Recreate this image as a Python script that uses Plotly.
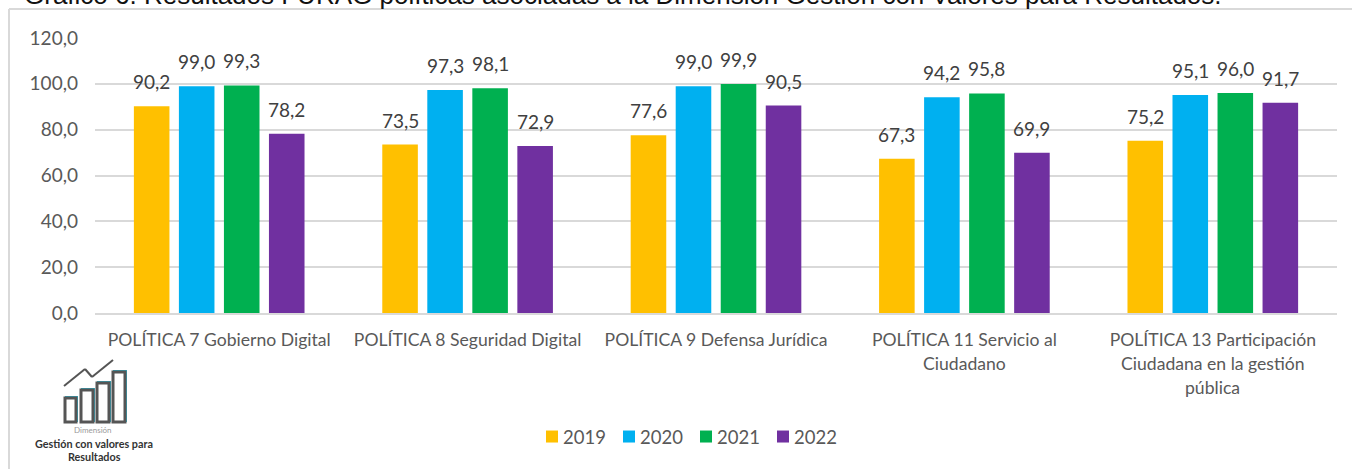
import plotly.graph_objects as go

TITLE = "Gráfico 6. Resultados FURAG políticas asociadas a la Dimensión Gestión con Valores para Resultados."
CATEGORIES = ["POLÍTICA 7", "POLÍTICA 8", "POLÍTICA 9", "POLÍTICA 11", "POLÍTICA 13"]
FIRST_LINES = ["POLÍTICA 7 Gobierno Digital", "POLÍTICA 8 Seguridad Digital", "POLÍTICA 9 Defensa Jurídica",
               "POLÍTICA 11 Servicio al", "POLÍTICA 13 Participación"]
EXTRA_LINES = {3: ["Ciudadano"], 4: ["Ciudadana en la gestión", "pública"]}
YEARS = ["2019", "2020", "2021", "2022"]
V2019 = [90.2, 73.5, 77.6, 67.3, 75.2]
V2020 = [99.0, 97.3, 99.0, 94.2, 95.1]
V2021 = [99.3, 98.1, 99.9, 95.8, 96.0]
V2022 = [78.2, 72.9, 90.5, 69.9, 91.7]
SERIES = [V2019, V2020, V2021, V2022]
COLORS = ["#FFC000", "#00B0F0", "#00B050", "#7030A0"]

FONT = "Lato"
GREY = "#595959"
W, H = 1352, 469
L, R, T, B = 95, 15, 38, 156
PW, PH = W - L - R, H - T - B
px = lambda v: (v - L) / PW
py = lambda v: (H - B - v) / PH

fig = go.Figure()
for year, vals, col in zip(YEARS, SERIES, COLORS):
    fig.add_bar(name=year, x=CATEGORIES, y=vals, marker_color=col, marker_line_width=0)

ann = []
for i, vals in enumerate(SERIES):
    for cat, v in zip(CATEGORIES, vals):
        ann.append(dict(x=cat, y=v, xref="x", yref="y", text=f"{v:.1f}".replace(".", ","), showarrow=False,
                        xshift=(i - 1.5) * 45, yshift=11, yanchor="bottom",
                        font=dict(family=FONT, size=19, color="#404040")))
for idx, lines in EXTRA_LINES.items():
    for j, t in enumerate(lines):
        ann.append(dict(x=CATEGORIES[idx], y=py(339 + 24 * (j + 1)), xref="x", yref="paper", text=t, showarrow=False,
                        yanchor="middle", font=dict(family=FONT, size=17.6, color=GREY)))
# logo caption
ann.append(dict(x=px(93), y=py(437), xref="paper", yref="paper", text="Dimensión", showarrow=False, xanchor="center",
                font=dict(family=FONT, size=8, color="#9a9a9a")))
ann.append(dict(x=px(94), y=py(452), xref="paper", yref="paper", text="<b>Gestión con valores para</b>", showarrow=False,
                xanchor="center", font=dict(family=FONT, size=10.8, color="#333333")))
ann.append(dict(x=px(94), y=py(465), xref="paper", yref="paper", text="<b>Resultados</b>", showarrow=False,
                xanchor="center", font=dict(family=FONT, size=10.8, color="#333333")))

shapes = []
def line(x0, y0, x1, y1, color, width):
    shapes.append(dict(type="line", xref="paper", yref="paper", x0=px(x0), y0=py(y0), x1=px(x1), y1=py(y1),
                       line=dict(color=color, width=width)))
line(9, 9, 1352, 9, "#D9D9D9", 2)
line(9, 9, 9, 469, "#D9D9D9", 2)
for x0, x1, top in [(65, 76, 398), (81, 93, 390), (97, 109, 383), (113, 125, 372)]:
    shapes.append(dict(type="rect", xref="paper", yref="paper", x0=px(x0 + 1), x1=px(x1 + 1), y0=py(421), y1=py(top - 1),
                       line=dict(color="#2BB3CC", width=2)))
    shapes.append(dict(type="rect", xref="paper", yref="paper", x0=px(x0), x1=px(x1), y0=py(422), y1=py(top),
                       fillcolor="white", line=dict(color="#555555", width=3)))
pts = [(64, 386), (85, 369), (92, 377), (113, 360)]
for a, b in zip(pts, pts[1:]):
    line(a[0], a[1], b[0], b[1], "#555555", 2)

fig.update_layout(
    width=W, height=H, autosize=False, barmode="group", bargap=0.275, bargroupgap=0.21,
    paper_bgcolor="white", plot_bgcolor="white", separators=",.",
    margin=dict(l=L, r=R, t=T, b=B),
    font=dict(family=FONT, size=16, color=GREY),
    title=dict(text=TITLE, x=24 / W, xanchor="left", y=1 - 4 / H, yanchor="bottom", yref="container",
               font=dict(family="Liberation Sans", size=26, color="#111111")),
    xaxis=dict(tickmode="array", tickvals=CATEGORIES, ticktext=FIRST_LINES, showline=True, linecolor="#D9D9D9",
               linewidth=2, ticks="", ticklabelstandoff=10, tickfont=dict(family=FONT, size=17.6, color=GREY), automargin=False),
    yaxis=dict(range=[0, 120], dtick=20, tickformat=".1f", gridcolor="#D9D9D9", gridwidth=2, zeroline=False,
               ticks="", ticklabelstandoff=16, tickfont=dict(family=FONT, size=19, color=GREY), automargin=False),
    legend=dict(orientation="h", x=px(523), xanchor="left", y=py(437), yanchor="middle",
                entrywidth=32, entrywidthmode="pixels", font=dict(family=FONT, size=18.5, color=GREY), traceorder="normal"),
    annotations=ann, shapes=shapes,
)
fig.write_html(
    "out.html",
    config={"displayModeBar": False},
    post_script="document.body.style.margin='0';"
                "document.querySelectorAll('.legend .scrollbox').forEach(function(e){e.removeAttribute('clip-path');e.style.clipPath='none';});"
                "document.querySelectorAll('.legend .legendsymbols').forEach(function(e){e.setAttribute('transform','translate(9,0)');});",
)
